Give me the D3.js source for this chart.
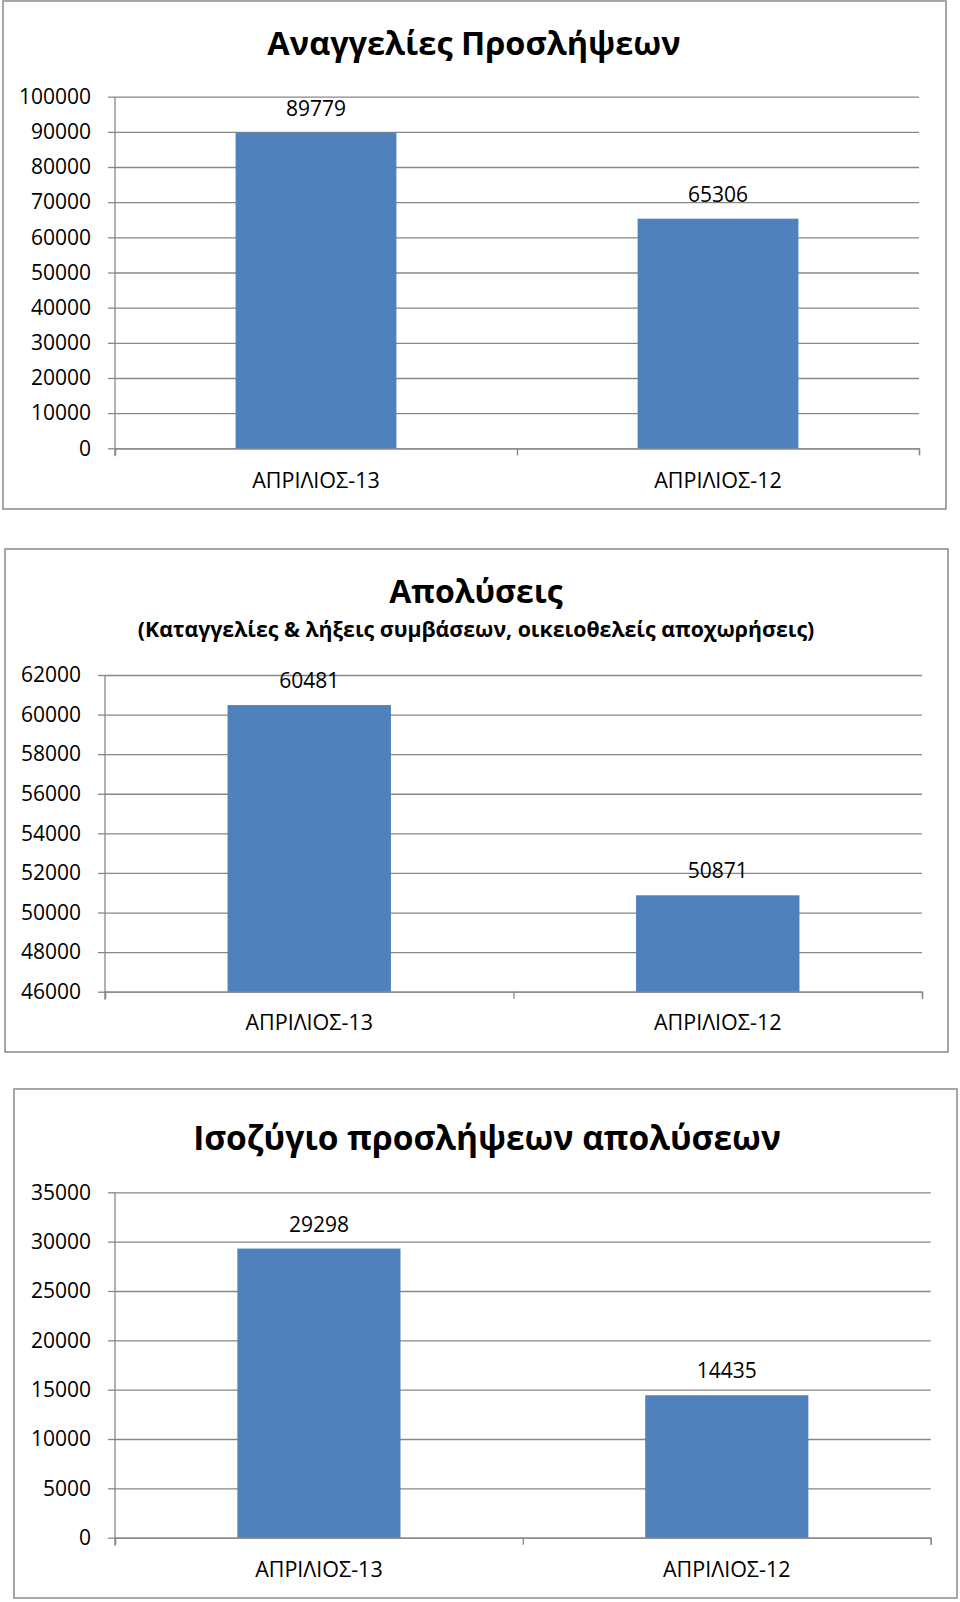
<!DOCTYPE html>
<html>
<head>
<meta charset="utf-8">
<script src="https://cdn.jsdelivr.net/npm/d3@7"></script>
<style>
  body { margin: 0; background: #fff; }
  text { font-family: "Open Sans", "Noto Sans", sans-serif; fill: #000; }
</style>
</head>
<body>
<div id="chart"></div>
<script>
// categories and values
const categories = ["ΑΠΡΙΛΙΟΣ-13", "ΑΠΡΙΛΙΟΣ-12"];
const hiresValues = [89779, 65306];
const layoffValues = [60481, 50871];
const balanceValues = [29298, 14435];

const hiresTicks = [0, 10000, 20000, 30000, 40000, 50000, 60000, 70000, 80000, 90000, 100000];
const layoffTicks = [46000, 48000, 50000, 52000, 54000, 56000, 58000, 60000, 62000];
const balanceTicks = [0, 5000, 10000, 15000, 20000, 25000, 30000, 35000];

const hiresTitle = ["Αναγγελίες Προσλήψεων"];
const layoffTitle = ["Απολύσεις", "(Καταγγελίες & λήξεις συμβάσεων, οικειοθελείς αποχωρήσεις)"];
const balanceTitle = ["Ισοζύγιο προσλήψεων απολύσεων"];

const barColor = "#4f81bd";
const gridColor = "#878787";

const svg = d3.select("#chart").append("svg")
  .attr("width", 960)
  .attr("height", 1602);

function drawChart(cfg) {
  const g = svg.append("g");

  g.append("rect")
    .attr("x", cfg.frame[0]).attr("y", cfg.frame[1])
    .attr("width", cfg.frame[2] - cfg.frame[0])
    .attr("height", cfg.frame[3] - cfg.frame[1])
    .attr("fill", "#fff")
    .attr("stroke", "#8a8a8a")
    .attr("stroke-width", 1.5);

  const y = d3.scaleLinear().domain(cfg.domain).range([cfg.bottom, cfg.top]);
  const x = d3.scaleBand().domain(categories)
    .range([cfg.left, cfg.right])
    .paddingInner(0.6).paddingOuter(0.3);
  const xt = d3.scaleLinear().domain([0, categories.length]).range([cfg.left, cfg.right]);

  // gridlines
  g.append("g")
    .attr("transform", `translate(${cfg.left},0)`)
    .call(d3.axisLeft(y).tickValues(cfg.ticks).tickSize(-(cfg.right - cfg.left)).tickFormat(""))
    .call(s => s.select(".domain").remove())
    .call(s => s.selectAll("line").attr("stroke", gridColor).attr("stroke-width", 1.3));

  // y axis with labels
  g.append("g")
    .attr("transform", `translate(${cfg.left},0)`)
    .call(d3.axisLeft(y).tickValues(cfg.ticks).tickSize(7).tickPadding(17).tickFormat(d3.format("d")))
    .call(s => s.select(".domain").attr("stroke", gridColor).attr("stroke-width", 1.3)
      .attr("d", `M0,${cfg.top}V${cfg.bottom + 8}`))
    .call(s => s.selectAll("line").attr("stroke", gridColor).attr("stroke-width", 1.3))
    .call(s => s.selectAll("text").style("font-size", cfg.fontSize + "px").attr("fill", "#000"));

  // x tick marks at category boundaries
  g.append("g")
    .attr("transform", `translate(0,${cfg.bottom})`)
    .call(d3.axisBottom(xt).ticks(categories.length).tickSize(7).tickFormat(""))
    .call(s => s.select(".domain").attr("stroke", gridColor).attr("stroke-width", 1.3))
    .call(s => s.selectAll("line").attr("stroke", gridColor).attr("stroke-width", 1.3));

  // bars
  g.selectAll("rect.bar")
    .data(cfg.values)
    .join("rect")
    .attr("class", "bar")
    .attr("x", (d, i) => x(categories[i]))
    .attr("width", x.bandwidth())
    .attr("y", d => y(d))
    .attr("height", d => cfg.bottom - y(d))
    .attr("fill", barColor);

  // category labels
  g.append("g")
    .attr("transform", `translate(0,${cfg.bottom})`)
    .call(d3.axisBottom(x).tickSize(0).tickPadding(cfg.catPad))
    .call(s => s.select(".domain").remove())
    .call(s => s.selectAll("text").style("font-size", cfg.catSize + "px").attr("fill", "#000"));

  // value labels
  g.selectAll("text.val")
    .data(cfg.values)
    .join("text")
    .attr("class", "val")
    .attr("x", (d, i) => x(categories[i]) + x.bandwidth() / 2)
    .attr("y", d => y(d) - 17)
    .attr("text-anchor", "middle")
    .style("font-size", cfg.fontSize + "px")
    .text(d => d);

  // titles
  cfg.title.forEach((t, i) => {
    g.append("text")
      .attr("x", cfg.titleX)
      .attr("y", cfg.titleY[i])
      .attr("text-anchor", "middle")
      .style("font-size", cfg.titleSize[i] + "px")
      .style("font-weight", "bold")
      .text(t);
  });
}

drawChart({
  frame: [3, 1, 946, 509],
  left: 115, right: 919, top: 96.7, bottom: 448.3,
  domain: [0, 100000], ticks: hiresTicks, values: hiresValues,
  fontSize: 21, catSize: 21.5, catPad: 24.5,
  title: hiresTitle, titleX: 474, titleY: [55], titleSize: [32.5]
});

drawChart({
  frame: [5, 549, 948, 1052],
  left: 105, right: 922, top: 675, bottom: 991.7,
  domain: [46000, 62000], ticks: layoffTicks, values: layoffValues,
  fontSize: 21, catSize: 21.5, catPad: 23,
  title: layoffTitle, titleX: 476, titleY: [603, 637], titleSize: [32, 21.3]
});

drawChart({
  frame: [14, 1089, 957, 1598],
  left: 115, right: 930.7, top: 1192.3, bottom: 1537.7,
  domain: [0, 35000], ticks: balanceTicks, values: balanceValues,
  fontSize: 21, catSize: 21.5, catPad: 23.7,
  title: balanceTitle, titleX: 487, titleY: [1150], titleSize: [33.5]
});
</script>
</body>
</html>
